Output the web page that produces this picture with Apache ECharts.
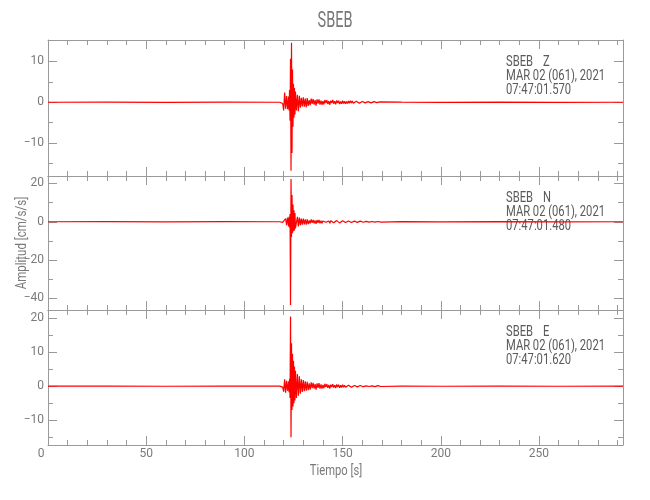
<!DOCTYPE html>
<html><head><meta charset="utf-8">
<script src="https://cdn.jsdelivr.net/npm/echarts@6/dist/echarts.min.js"></script>
<style>html,body{margin:0;padding:0;background:#fff}#c{width:650px;height:500px}</style>
</head><body><div id="c"></div>
<script>
// ---------------- DATA ----------------
const titleText = 'SBEB';
const xName = 'Tiempo [s]';
const yName = 'Amplitud [cm/s/s]';
const stationName = 'SBEB';
const components = ['Z', 'N', 'E'];
const dateLabel = 'MAR 02 (061), 2021';
const timeLabels = ['07:47:01.570', '07:47:01.480', '07:47:01.620'];

const xRange = [0, 292.8];
const xMajorTicks = [0, 50, 100, 150, 200, 250];
const xMinorTicks = [10,20,30,40,60,70,80,90,110,120,130,140,160,170,180,190,210,220,230,240,260,270,280,290];

const zRange = [-18, 15.2];
const nRange = [-46.1, 23.9];
const eRange = [-17.3, 22.4];
const zMajor = [10, 0, -10];
const nMajor = [20, 0, -20, -40];
const eMajor = [20, 10, 0, -10];
const zMinor = [5, -5, -15];
const nMinor = [10, -10, -30];
const eMinor = [15, 5, -5, -15];

// sample times (s)
const tPre = [0, 30, 60, 90, 118];
const tOnset = [119, 119.5, 120, 120.5, 121, 121.5, 122, 122.5];
const tCore = [122.75, 123, 123.25, 123.5, 123.75, 124, 124.25, 124.5, 124.75, 125, 125.25, 125.5, 125.75, 126];
const tCoda = [126.5, 127, 127.5, 128, 128.5, 129, 129.5, 130, 130.5, 131,
  131.5, 132, 132.5, 133, 133.5, 134, 134.5, 135, 135.5, 136,
  136.5, 137, 137.5, 138, 138.5, 139, 139.5, 140, 140.5, 141,
  141.5, 142, 142.5, 143, 143.5, 144, 144.5, 145, 145.5, 146,
  146.5, 147, 147.5, 148, 148.5, 149, 149.5, 150, 150.5, 151,
  151.5, 152, 152.5, 153, 153.5, 154, 154.5, 155, 155.5, 156,
  156.5, 157, 157.5, 158, 158.5, 159, 159.5, 160, 160.5, 161,
  161.5, 162, 162.5, 163, 163.5, 164, 164.5, 165, 165.5, 166,
  166.5, 167, 167.5, 168, 168.5, 169, 169.5, 170];
const tPost = [180, 200, 230, 260, 292.8];

// Z component (cm/s/s)
const zPre = [0, 0.03, -0.03, 0.03, 0];
const zOnset = [0.2, -0.3, -2.0, 2.4, -1.6, 1.5, -1.7, 1.4];
const zCore = [-2.0, 3.0, -4.5, 10.6, -16.7, 14.5, -12.4, 8.0, -6.0, 4.5, -3.8, 3.5, -3.0, 2.6];
const zCoda = [-2.0, 1.8, -2.2, 1.6,
  -1.3, 1.1, -1.0, 1.2, -1.1, 0.9, -1.2, 1.0,
  -0.9, 0.5, -0.7, 0.9, -0.4, 0.8, -0.6, 0.5, -0.8, 0.7, -0.3, 0.7, -0.6, 0.4,
  -0.6, 0.3, -0.5, 0.6, -0.2, 0.5, -0.45, 0.3, -0.6, 0.4, -0.2, 0.55, -0.35, 0.25, -0.5, 0.45, -0.2, 0.4, -0.45, 0.2, -0.35, 0.4,
  -0.3, 0.25, -0.35, 0.2, -0.3, 0.3, -0.25, 0.35, -0.2, 0.3, -0.25, 0.2, -0.3, 0.25, -0.2, 0.3, -0.25, 0.2, -0.3, 0.2,
  -0.15, 0.2, -0.15, 0.1, -0.2, 0.15, -0.1, 0.15, -0.15, 0.1, -0.1, 0.15, -0.15, 0.1, -0.1, 0.15, -0.1, 0.1, -0.1, 0.05];
const zPost = [0.03, -0.03, 0.03, -0.03, 0];

// N component (cm/s/s)
const nPre = [0, 0.05, -0.05, 0.05, 0];
const nOnset = [0.3, -0.3, 0.4, -0.5, 1.7, -1.8, 2.2, -2.4];
const nCore = [2.6, -3.0, 4.0, -43.5, 22.3, -8.0, 14.0, -6.0, 9.0, -5.0, 6.0, -4.5, 4.5, -3.5];
const nCoda = [-3.0, 2.6, -2.4, 2.2,
  -1.8, 1.6, -1.5, 1.7, -1.4, 1.3, -1.5, 1.2,
  -1.2, 0.7, -0.9, 1.2, -0.6, 1.0, -0.8, 0.7, -1.1, 0.9, -0.5, 0.9, -0.8, 0.6,
  -0.8, 0.4, -0.6, 0.8, -0.3, 0.7, -0.6, 0.4, -0.8, 0.5, -0.3, 0.7, -0.5, 0.35, -0.6, 0.6, -0.3, 0.5, -0.6, 0.3, -0.45, 0.5,
  -0.45, 0.35, -0.4, 0.3, -0.45, 0.4, -0.3, 0.45, -0.35, 0.4, -0.3, 0.35, -0.4, 0.3, -0.35, 0.4, -0.3, 0.3, -0.35, 0.3,
  -0.25, 0.3, -0.2, 0.2, -0.25, 0.25, -0.2, 0.2, -0.25, 0.15, -0.2, 0.25, -0.15, 0.2, -0.2, 0.15, -0.15, 0.2, -0.15, 0.1];
const nPost = [0.05, -0.05, 0.05, -0.05, 0];

// E component (cm/s/s)
const ePre = [0, 0.03, -0.03, 0.03, 0];
const eOnset = [0.2, -0.3, -1.6, 2.0, -1.9, 1.6, -1.3, 1.4];
const eCore = [-1.8, 2.2, -3.5, 20.5, -15.0, 12.6, -7.0, 9.5, -6.0, 7.5, -5.0, 5.8, -4.2, 4.5];
const eCoda = [-3.5, 3.6, -2.8, 2.9,
  -2.2, 2.0, -1.7, 1.8, -1.5, 1.4, -1.3, 1.3,
  -1.2, 0.8, -1.0, 1.1, -0.6, 1.0, -0.7, 0.6, -1.0, 0.8, -0.5, 0.9, -0.7, 0.5,
  -0.7, 0.35, -0.6, 0.7, -0.3, 0.6, -0.5, 0.35, -0.7, 0.45, -0.25, 0.6, -0.4, 0.3, -0.55, 0.5, -0.25, 0.45, -0.5, 0.25, -0.4, 0.45,
  -0.35, 0.3, -0.3, 0.25, -0.35, 0.3, -0.25, 0.3, -0.3, 0.25, -0.3, 0.2, -0.3, 0.25, -0.2, 0.3, -0.25, 0.2, -0.25, 0.2,
  -0.15, 0.2, -0.15, 0.1, -0.2, 0.15, -0.1, 0.15, -0.15, 0.1, -0.1, 0.15, -0.15, 0.1, -0.1, 0.15, -0.1, 0.1, -0.1, 0.05];
const ePost = [0.03, -0.03, 0.03, -0.03, 0];

// ---------------- BUILD ----------------
const times = [].concat(tPre, tOnset, tCore, tCoda, tPost);
const traces = [
  [].concat(zPre, zOnset, zCore, zCoda, zPost),
  [].concat(nPre, nOnset, nCore, nCoda, nPost),
  [].concat(ePre, eOnset, eCore, eCoda, ePost)
];
const yRanges = [zRange, nRange, eRange];
const yMajors = [zMajor, nMajor, eMajor];
const yMinors = [zMinor, nMinor, eMinor];

const FONT = "Roboto, 'Liberation Sans', sans-serif";
const AX = '#9a9a9a';
const LBL = '#7a7a7a';
const TXT = '#5a5a5a';
const tops = [40, 176, 310];
const heights = [136, 134, 135];

const grids = [], xAxes = [], yAxes = [], series = [], graphics = [];
const fmt = v => String(v).replace('-', '\u2212');

for (let i = 0; i < 3; i++) {
  grids.push({ left: 48, width: 575, top: tops[i], height: heights[i] });
  ['bottom', 'top'].forEach(pos => {
    [true, false].forEach(major => {
      xAxes.push({
        type: 'value', gridIndex: i, position: pos, min: xRange[0], max: xRange[1],
        axisLine: { show: major, onZero: false, lineStyle: { color: AX, width: 1 } },
        axisTick: { show: true, inside: true, length: major ? 9 : 5,
          customValues: major ? xMajorTicks : xMinorTicks, lineStyle: { color: AX, width: 1 } },
        axisLabel: { show: major && pos === 'bottom' && i === 2, customValues: xMajorTicks,
          margin: 3, color: LBL, fontFamily: FONT, fontSize: 12,
          formatter: v => v === 0 ? '{z|0}' : String(v),
          rich: { z: { padding: [0, 14, 0, 0], color: LBL, fontFamily: FONT, fontSize: 12 } } },
        splitLine: { show: false }, minorTick: { show: false }
      });
    });
  });
  ['left', 'right'].forEach(pos => {
    [true, false].forEach(major => {
      yAxes.push({
        type: 'value', gridIndex: i, position: pos, min: yRanges[i][0], max: yRanges[i][1],
        axisLine: { show: major, onZero: false, lineStyle: { color: AX, width: 1 } },
        axisTick: { show: true, inside: true, length: major ? 9 : 5,
          customValues: major ? yMajors[i] : yMinors[i], lineStyle: { color: AX, width: 1 } },
        axisLabel: { show: major && pos === 'left', customValues: yMajors[i],
          margin: 4, color: LBL, fontFamily: FONT, fontSize: 12, formatter: fmt },
        splitLine: { show: false }, minorTick: { show: false }
      });
    });
  });
  series.push({
    type: 'line', xAxisIndex: i * 4, yAxisIndex: i * 4,
    data: times.map((t, k) => [t, traces[i][k]]),
    showSymbol: false, symbol: 'none', clip: false, silent: true,
    lineStyle: { color: '#ff0000', width: 1.2 }
  });
  const baseY = tops[i] + 22;
  const rows = [[stationName, 506], [components[i], 543], [dateLabel, 506], [timeLabels[i], 506]];
  const rowY = [baseY, baseY, baseY + 14, baseY + 28];
  rows.forEach((r, j) => {
    graphics.push({ type: 'text', x: r[1], y: rowY[j], scaleX: 0.8,
      style: { text: r[0], fill: TXT, font: '14px ' + FONT,
        align: 'left', verticalAlign: 'middle', textAlign: 'left', textVerticalAlign: 'middle' } });
  });
}

graphics.push({ type: 'text', x: 335, y: 21, scaleX: 0.66, style: { text: titleText, fill: '#777', font: '22px ' + FONT,
  align: 'center', verticalAlign: 'middle', textAlign: 'center', textVerticalAlign: 'middle' } });
graphics.push({ type: 'text', x: 336, y: 471, scaleX: 0.8, style: { text: xName, fill: LBL, font: '14px ' + FONT,
  align: 'center', verticalAlign: 'middle', textAlign: 'center', textVerticalAlign: 'middle' } });
graphics.push({ type: 'text', x: 22, y: 243, rotation: Math.PI / 2, scaleX: 0.82, style: { text: yName, fill: LBL, font: '14px ' + FONT,
  align: 'center', verticalAlign: 'middle', textAlign: 'center', textVerticalAlign: 'middle' } });

const chart = echarts.init(document.getElementById('c'), null, { renderer: 'canvas' });
chart.setOption({
  animation: false,
  backgroundColor: '#ffffff',
  grid: grids, xAxis: xAxes, yAxis: yAxes, series: series,
  graphic: { elements: graphics }
});
</script></body></html>
